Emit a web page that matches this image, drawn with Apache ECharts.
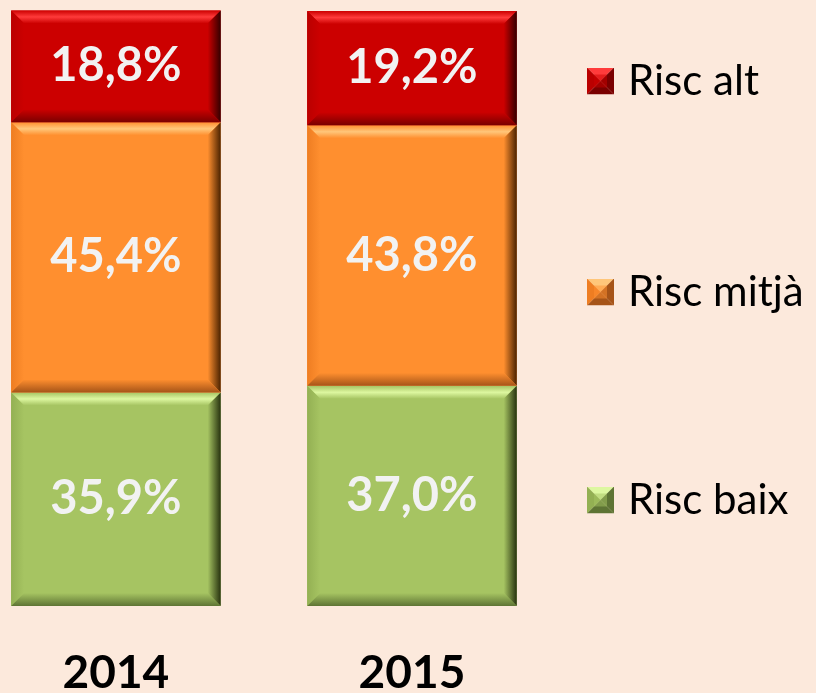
<!DOCTYPE html>
<html><head><meta charset="utf-8">
<script src="https://cdn.jsdelivr.net/npm/echarts@6/dist/echarts.min.js"></script>
<style>html,body{margin:0;padding:0;background:#FCE9DC;}#c{width:816px;height:693px;}</style>
</head><body><div id="c"></div>
<script>
const categories = ['2014', '2015'];
const riscBaix = [35.9, 37.0];
const riscMitja = [45.4, 43.8];
const riscAlt = [18.8, 19.2];
const seriesNames = ['Risc baix', 'Risc mitjà', 'Risc alt'];

const palettes = {
  'Risc baix': {main:'#A6C462', top:'#DDF7A0', left:'#93B053', right:'#27320F', bottom:'#5E7434'},
  'Risc mitjà': {main:'#FF8F2F', top:'#FFC67A', left:'#EE7D22', right:'#4A2200', bottom:'#A65418'},
  'Risc alt': {main:'#CC0000', top:'#FF3B3B', left:'#BA0000', right:'#330000', bottom:'#7A0000'}
};
const FONT = 'Lato, "Open Sans", sans-serif';

function lg(x1,y1,x2,y2,stops){return new echarts.graphic.LinearGradient(x1,y1,x2,y2,stops.map((c,i)=>({offset:i/(stops.length-1),color:c})));}

function makeRender(name, drawCategory){
  const p = palettes[name];
  return function(params, api){
    const x = api.value(0), base = api.value(1), v = api.value(2);
    const p0 = api.coord([x, base]);
    const p1 = api.coord([x, base + v]);
    const bw = api.size([1, 0])[0] * 0.708;
    const l = p0[0] - bw/2, r = p0[0] + bw/2, t = p1[1], b = p0[1];
    const d = 13;
    const children = [
      {type:'rect', shape:{x:l, y:t, width:r-l, height:b-t}, style:{fill:p.main}},
      {type:'polygon', shape:{points:[[l,t],[r,t],[r-d,t+d],[l+d,t+d]]}, style:{fill:lg(0,0,0,1,[p.main,p.top,p.main])}},
      {type:'polygon', shape:{points:[[l,t],[l+d,t+d],[l+d,b-d],[l,b]]}, style:{fill:lg(0,0,1,0,[p.left,p.main])}},
      {type:'polygon', shape:{points:[[r,t],[r,b],[r-d,b-d],[r-d,t+d]]}, style:{fill:lg(0,0,1,0,[p.main,p.right])}},
      {type:'polygon', shape:{points:[[l,b],[r,b],[r-d,b-d],[l+d,b-d]]}, style:{fill:lg(0,0,0,1,[p.main,p.bottom])}},
      {type:'text', style:{x:(l+r)/2, y:(t+b)/2, text:v.toFixed(1).replace('.', ',') + '%', fill:'#F2F2F2',
        font:'bold 47px ' + FONT, align:'center', verticalAlign:'middle'}}
    ];
    if (drawCategory) {
      children.push({type:'text', style:{x:p0[0], y:b + 67, text:categories[x], fill:'#000',
        font:'bold 46px ' + FONT, align:'center', verticalAlign:'middle'}});
    }
    return {type:'group', children};
  };
}

function iconFor(name){
  const p = palettes[name];
  const svg = '<svg xmlns="http://www.w3.org/2000/svg" width="36" height="27" viewBox="0 0 36 27">'+
    '<polygon points="0,0 27,0 13.5,13.5" fill="'+p.top+'"/>'+
    '<polygon points="0,0 13.5,13.5 0,27" fill="'+p.left+'"/>'+
    '<polygon points="27,0 27,27 13.5,13.5" fill="'+p.bottom+'"/>'+
    '<polygon points="0,27 27,27 13.5,13.5" fill="'+p.bottom+'"/>'+
    '<rect x="7" y="7" width="13" height="13" fill="'+p.main+'" opacity="0.5"/>'+
    '</svg>';
  return 'image://data:image/svg+xml;charset=utf-8,' + encodeURIComponent(svg);
}

const valuesByName = {'Risc baix': riscBaix, 'Risc mitjà': riscMitja, 'Risc alt': riscAlt};
const bases = categories.map(() => 0);
const series = seriesNames.map((name, si) => {
  const vals = valuesByName[name];
  const data = vals.map((v, i) => { const item = [i, bases[i], v]; bases[i] += v; return item; });
  return {
    name, type:'custom', renderItem: makeRender(name, si === 0), data,
    itemStyle:{color: palettes[name].main},
    encode:{x:0, y:[1,2]}, clip:false
  };
});

const legendTops = {'Risc alt': 83, 'Risc mitjà': 294, 'Risc baix': 502};
const legends = seriesNames.map(name => ({
  data:[{name, icon: iconFor(name)}],
  left: 587, top: legendTops[name] - 23, padding: 0,
  itemWidth: 36, itemHeight: 27, selectedMode:false,
  textStyle:{fontSize:42, color:'#000', fontFamily:FONT}
}));

const chart = echarts.init(document.getElementById('c'));
chart.setOption({
  backgroundColor:'#FCE9DC',
  animation:false,
  grid:{left:0, right:256, top:11, bottom:87},
  legend: legends,
  xAxis:{type:'value', min:-0.3915, max:1.5, show:false, splitLine:{show:false}},
  yAxis:{type:'value', min:0, max:100, show:false, splitLine:{show:false}},
  series
});
</script>
</body></html>
